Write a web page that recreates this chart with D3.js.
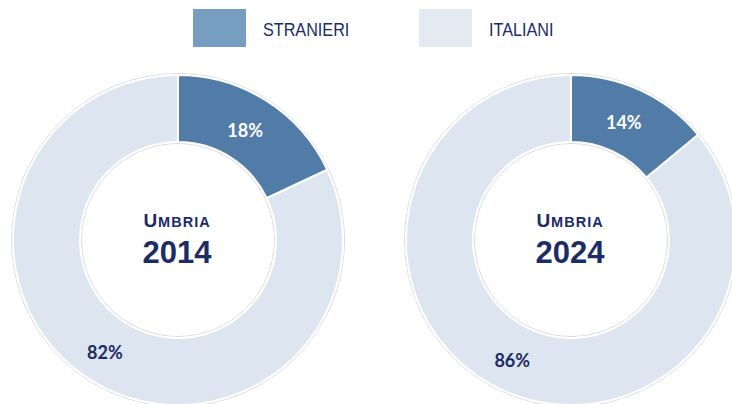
<!DOCTYPE html>
<html>
<head>
<meta charset="utf-8">
<script src="https://cdn.jsdelivr.net/npm/d3@7"></script>
<style>
body{margin:0;background:#fff}
svg{display:block}
</style>
</head>
<body>
<svg id="chart" width="732" height="404"></svg>
<script>
// dati
var categories = ['STRANIERI','ITALIANI']
var years = ['2014','2024']
var region = 'Umbria'
var values2014 = [18, 82]
var values2024 = [14, 86]
var series = [values2014, values2024]

var sliceColors = ['#507ca7','#dde5f0']
var legendColors = ['#779dc0','#e3eaf2']
var labelColors = ['#ffffff','#1b2c66']
var navy = '#1b2c66'

var svg = d3.select('#chart')
var R = 165, r = 98
var cx = d3.scalePoint().domain(years).range([178, 571])
var cy = 240

var arc = d3.arc().innerRadius(r).outerRadius(R)
var labelArc = d3.arc().innerRadius(131).outerRadius(131)
var pie = d3.pie().sort(null)

years.forEach(function(y, i){
	var g = svg.append('g').attr('transform','translate('+cx(y)+','+cy+')')
	var arcs = pie(series[i])
	g.append('circle').attr('r', R+1.5).attr('fill','none')
		.attr('stroke','#cfcfcf').attr('stroke-width',0.8)
	g.append('circle').attr('r', r-1.5).attr('fill','none')
		.attr('stroke','#cfcfcf').attr('stroke-width',0.8)
	g.selectAll('path').data(arcs).enter().append('path')
		.attr('d', arc)
		.attr('fill', function(d,j){return sliceColors[j]})
		.attr('stroke','#fff').attr('stroke-width',2)
	g.selectAll('text.pct').data(arcs).enter().append('text')
		.attr('class','pct')
		.attr('x', function(d){return labelArc.centroid(d)[0]-3})
		.attr('y', function(d){return labelArc.centroid(d)[1]+8})
		.attr('text-anchor','middle')
		.attr('fill', function(d,j){return labelColors[j]})
		.style('font-family','Lato, "Liberation Sans", sans-serif')
		.style('font-weight','bold')
		.style('font-size','18px')
		.text(function(d){return d.data+'%'})
	var t = g.append('text').attr('x',-1).attr('y',-13).attr('text-anchor','middle')
		.attr('fill',navy)
		.style('font-family','"Liberation Sans", Arial, sans-serif')
		.style('font-weight','bold')
		.style('letter-spacing','1px')
	t.append('tspan').style('font-size','19px').text(region[0].toUpperCase())
	t.append('tspan').style('font-size','14.5px').text(region.slice(1).toUpperCase())
	g.append('text').attr('x',-1).attr('y',23).attr('text-anchor','middle')
		.attr('fill',navy)
		.style('font-family','"Liberation Sans", Arial, sans-serif')
		.style('font-weight','bold')
		.style('font-size','31px')
		.text(y)
})

// legenda
var lx = d3.scalePoint().domain(categories).range([193, 419])
var leg = svg.selectAll('g.leg').data(categories).enter().append('g')
	.attr('class','leg')
	.attr('transform', function(d){return 'translate('+lx(d)+',9)'})
leg.append('rect').attr('width',53).attr('height',38)
	.attr('fill', function(d,i){return legendColors[i]})
leg.append('text')
	.attr('transform','translate(70,27) scale(0.9,1)')
	.attr('fill',navy)
	.style('font-family','"Liberation Sans", sans-serif')
	.style('font-size','18px')
	.text(function(d){return d})
</script>
</body>
</html>
